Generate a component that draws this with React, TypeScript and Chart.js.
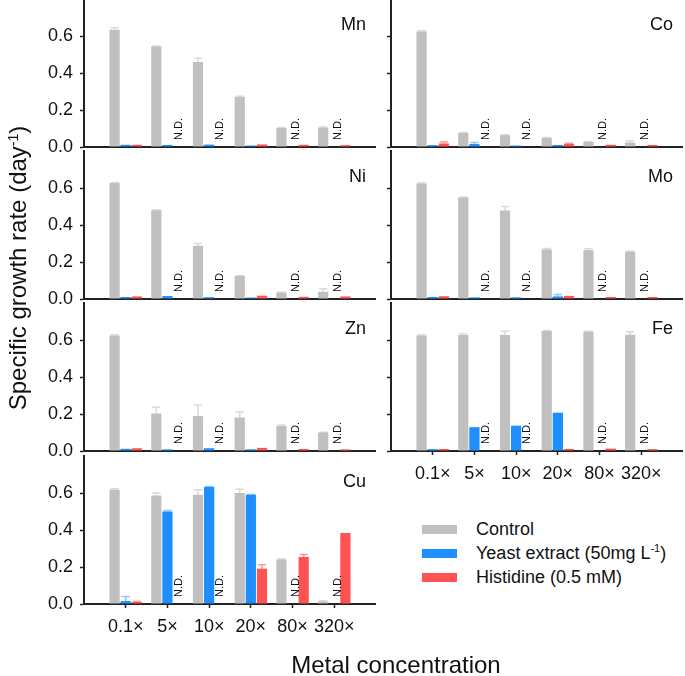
import React, { useEffect, useRef } from 'react';
import { Chart, registerables } from 'chart.js';

Chart.register(...registerables);

const FONT = '"Liberation Sans", Arial, Helvetica, sans-serif';

const CATEGORIES = ['0.1×', '5×', '10×', '20×', '80×', '320×'];
const Y_TICKS = [0, 0.2, 0.4, 0.6];
const Y_MAX = 0.8;
const SERIES_NAMES = ['Control', 'Yeast extract (50mg L-1)', 'Histidine (0.5 mM)'];
const SERIES_COLORS = ['#C0C0C0', '#1E8FFF', '#FF5252'];
const ERROR_COLORS = ['#DADADA', '#8CC6FF', '#FF9C9C'];

// null = N.D. (not detected)
const MN_CONTROL = [0.634, 0.543, 0.46, 0.27, 0.103, 0.105];
const MN_CONTROL_ERR = [0.01, 0.003, 0.02, 0.005, 0.003, 0.003];
const MN_YEAST = [0.012, 0.011, 0.013, 0.008, null, null];
const MN_YEAST_ERR = [0, 0, 0, 0, 0, 0];
const MN_HIS = [0.012, null, null, 0.014, 0.012, 0.01];
const MN_HIS_ERR = [0, 0, 0, 0, 0, 0];

const CO_CONTROL = [0.625, 0.076, 0.064, 0.049, 0.027, 0.024];
const CO_CONTROL_ERR = [0.003, 0.002, 0.002, 0.002, 0.003, 0.01];
const CO_YEAST = [0.01, 0.016, 0.008, 0.011, null, null];
const CO_YEAST_ERR = [0, 0.008, 0, 0, 0, 0];
const CO_HIS = [0.019, null, null, 0.017, 0.012, 0.011];
const CO_HIS_ERR = [0.008, 0, 0, 0.003, 0, 0];

const NI_CONTROL = [0.627, 0.48, 0.287, 0.124, 0.034, 0.039];
const NI_CONTROL_ERR = [0.003, 0.003, 0.013, 0.002, 0.002, 0.016];
const NI_YEAST = [0.011, 0.016, 0.01, 0.008, null, null];
const NI_YEAST_ERR = [0, 0, 0, 0, 0, 0];
const NI_HIS = [0.014, null, null, 0.018, 0.012, 0.014];
const NI_HIS_ERR = [0, 0, 0, 0, 0, 0];

const MO_CONTROL = [0.624, 0.548, 0.478, 0.268, 0.264, 0.255];
const MO_CONTROL_ERR = [0.003, 0.003, 0.022, 0.005, 0.008, 0.003];
const MO_YEAST = [0.011, 0.009, 0.009, 0.014, null, null];
const MO_YEAST_ERR = [0, 0, 0, 0.01, 0, 0];
const MO_HIS = [0.015, null, null, 0.017, 0.011, 0.011];
const MO_HIS_ERR = [0, 0, 0, 0, 0, 0];

const ZN_CONTROL = [0.625, 0.203, 0.189, 0.181, 0.135, 0.1];
const ZN_CONTROL_ERR = [0.003, 0.034, 0.06, 0.03, 0.006, 0.002];
const ZN_YEAST = [0.012, 0.009, 0.015, 0.009, null, null];
const ZN_YEAST_ERR = [0, 0, 0, 0, 0, 0];
const ZN_HIS = [0.015, null, null, 0.017, 0.011, 0.009];
const ZN_HIS_ERR = [0, 0, 0, 0, 0, 0];

const FE_CONTROL = [0.625, 0.627, 0.627, 0.648, 0.645, 0.628];
const FE_CONTROL_ERR = [0.002, 0.007, 0.02, 0.003, 0.002, 0.016];
const FE_YEAST = [0.01, 0.129, 0.137, 0.207, null, null];
const FE_YEAST_ERR = [0, 0, 0, 0, 0, 0];
const FE_HIS = [0.011, null, null, 0.011, 0.013, 0.01];
const FE_HIS_ERR = [0, 0, 0, 0, 0, 0];

const CU_CONTROL = [0.618, 0.587, 0.59, 0.6, 0.241, 0.014];
const CU_CONTROL_ERR = [0.005, 0.013, 0.027, 0.02, 0.003, 0.004];
const CU_YEAST = [0.016, 0.5, 0.632, 0.59, null, null];
const CU_YEAST_ERR = [0.024, 0.005, 0.003, 0.002, 0, 0];
const CU_HIS = [0.011, null, null, 0.191, 0.254, 0.384];
const CU_HIS_ERR = [0.002, 0, 0, 0.021, 0.013, 0];

type Panel = {
  name: string;
  col: number;
  row: number;
  xLabels: boolean;
  series: (number | null)[][];
  errors: number[][];
};

const PANELS: Panel[] = [
  { name: 'Mn', col: 0, row: 0, xLabels: false, series: [MN_CONTROL, MN_YEAST, MN_HIS], errors: [MN_CONTROL_ERR, MN_YEAST_ERR, MN_HIS_ERR] },
  { name: 'Co', col: 1, row: 0, xLabels: false, series: [CO_CONTROL, CO_YEAST, CO_HIS], errors: [CO_CONTROL_ERR, CO_YEAST_ERR, CO_HIS_ERR] },
  { name: 'Ni', col: 0, row: 1, xLabels: false, series: [NI_CONTROL, NI_YEAST, NI_HIS], errors: [NI_CONTROL_ERR, NI_YEAST_ERR, NI_HIS_ERR] },
  { name: 'Mo', col: 1, row: 1, xLabels: false, series: [MO_CONTROL, MO_YEAST, MO_HIS], errors: [MO_CONTROL_ERR, MO_YEAST_ERR, MO_HIS_ERR] },
  { name: 'Zn', col: 0, row: 2, xLabels: false, series: [ZN_CONTROL, ZN_YEAST, ZN_HIS], errors: [ZN_CONTROL_ERR, ZN_YEAST_ERR, ZN_HIS_ERR] },
  { name: 'Fe', col: 1, row: 2, xLabels: true, series: [FE_CONTROL, FE_YEAST, FE_HIS], errors: [FE_CONTROL_ERR, FE_YEAST_ERR, FE_HIS_ERR] },
  { name: 'Cu', col: 0, row: 3, xLabels: true, series: [CU_CONTROL, CU_YEAST, CU_HIS], errors: [CU_CONTROL_ERR, CU_YEAST_ERR, CU_HIS_ERR] },
];

// layout (pixels)
const ROW_ZERO = [147, 299, 451, 604];
const PLOT_H = 148;
const PAD_TOP = 12;
const PAD_BOTTOM = 12;
const COL_LEFT = [0, 307];
const CANVAS_W = 376;
const Y_AXIS_W = 84;

const errorBarsPlugin = {
  id: 'errorBars',
  beforeDatasetsDraw(chart: any) {
    const ctx = chart.ctx;
    const ys = chart.scales.y;
    chart.data.datasets.forEach((ds: any, di: number) => {
      const meta = chart.getDatasetMeta(di);
      meta.data.forEach((el: any, i: number) => {
        const v = ds.data[i];
        const e = ds.errors[i];
        if (v == null || !e) return;
        const top = ys.getPixelForValue(v + e);
        const w = el.width * 0.8;
        ctx.save();
        ctx.strokeStyle = ds.errColor;
        ctx.lineWidth = 1.5;
        ctx.beginPath();
        ctx.moveTo(el.x, el.y);
        ctx.lineTo(el.x, top);
        ctx.moveTo(el.x - w / 2, top);
        ctx.lineTo(el.x + w / 2, top);
        ctx.stroke();
        ctx.restore();
      });
    });
  },
};

const ndPlugin = {
  id: 'ndLabels',
  afterDatasetsDraw(chart: any) {
    const ctx = chart.ctx;
    const xs = chart.scales.x;
    const ys = chart.scales.y;
    const unit = xs.getPixelForValue(1) - xs.getPixelForValue(0);
    const slot = (unit * 0.8) / 3;
    const y0 = ys.getPixelForValue(0);
    chart.data.datasets.forEach((ds: any, di: number) => {
      if (di === 0) return;
      ds.data.forEach((v: any, i: number) => {
        if (i === 0 || i === ds.data.length - 1 || v !== null) return;
        const px = xs.getPixelForValue(i) + (di === 2 ? slot * 1.0 : slot * 0.3);
        ctx.save();
        ctx.translate(px, y0 - 7);
        ctx.rotate(-Math.PI / 2);
        ctx.font = '11px ' + FONT;
        ctx.fillStyle = '#111';
        ctx.textAlign = 'left';
        ctx.textBaseline = 'middle';
        ctx.fillText('N.D.', 0, 0);
        ctx.restore();
      });
    });
  },
};

const panelLabelPlugin = {
  id: 'panelLabel',
  afterDraw(chart: any) {
    const ctx = chart.ctx;
    const a = chart.chartArea;
    ctx.save();
    ctx.font = '18px ' + FONT;
    ctx.fillStyle = '#111';
    ctx.textAlign = 'right';
    ctx.textBaseline = 'middle';
    ctx.fillText(chart.options.plugins.panelLabel.text, a.right - 10, a.top + 26);
    ctx.restore();
  },
};

function PanelChart({ panel }: { panel: Panel }) {
  const ref = useRef<HTMLCanvasElement | null>(null);
  const xAxisH = panel.xLabels ? 42 : 2;
  const height = PAD_TOP + PLOT_H + xAxisH + PAD_BOTTOM;
  const top = ROW_ZERO[panel.row] - PLOT_H - PAD_TOP;
  const left = COL_LEFT[panel.col];

  useEffect(() => {
    if (!ref.current) return;
    const labels = ['', ...CATEGORIES, ''];
    const pad = (arr: any[]) => [null, ...arr, null];
    const chart = new Chart(ref.current, {
      type: 'bar',
      data: {
        labels,
        datasets: panel.series.map((s, k) => ({
          label: SERIES_NAMES[k],
          data: pad(s),
          errors: pad(panel.errors[k]),
          errColor: ERROR_COLORS[k],
          backgroundColor: SERIES_COLORS[k],
          borderWidth: 0,
          categoryPercentage: 0.8,
          barPercentage: 0.92,
        })) as any,
      },
      options: {
        responsive: false,
        animation: false,
        layout: { padding: { top: PAD_TOP, left: 0, right: 0, bottom: PAD_BOTTOM } },
        plugins: {
          legend: { display: false },
          tooltip: { enabled: false },
          panelLabel: { text: panel.name },
        } as any,
        scales: {
          x: {
            type: 'category',
            offset: false,
            grid: {
              offset: false,
              drawOnChartArea: false,
              drawTicks: panel.xLabels,
              tickLength: 4,
              tickColor: '#222',
              tickWidth: 1.5,
            },
            border: { display: true, color: '#222', width: 2 },
            ticks: {
              display: panel.xLabels,
              autoSkip: false,
              maxRotation: 0,
              padding: 8,
              color: '#111',
              font: { size: 18, family: FONT },
            },
            afterBuildTicks: (scale: any) => {
              scale.ticks = scale.ticks.filter((t: any) => t.value >= 1 && t.value <= CATEGORIES.length);
            },
            afterFit: (scale: any) => {
              scale.height = xAxisH;
              scale.paddingLeft = 0;
              scale.paddingRight = 0;
              scale.paddingTop = 0;
              scale.paddingBottom = 0;
            },
          },
          y: {
            min: 0,
            max: Y_MAX,
            grid: {
              drawOnChartArea: false,
              drawTicks: true,
              tickLength: 4,
              tickColor: '#222',
              tickWidth: 1.5,
            },
            border: { display: true, color: '#222', width: 2 },
            ticks: {
              padding: 7,
              color: panel.col === 0 ? '#111' : 'rgba(0,0,0,0)',
              font: { size: 18, family: FONT },
              callback: (v: any) => Number(v).toFixed(1),
            },
            afterBuildTicks: (scale: any) => {
              scale.ticks = Y_TICKS.map((v) => ({ value: v }));
            },
            afterFit: (scale: any) => {
              scale.width = Y_AXIS_W;
              scale.paddingTop = 0;
              scale.paddingBottom = 0;
              scale.paddingLeft = 0;
              scale.paddingRight = 0;
            },
          },
        },
      } as any,
      plugins: [errorBarsPlugin, ndPlugin, panelLabelPlugin],
    });
    return () => chart.destroy();
  }, []);

  return (
    <canvas
      ref={ref}
      width={CANVAS_W}
      height={height}
      style={{ position: 'absolute', left, top, width: CANVAS_W, height }}
    />
  );
}

export default function App() {
  const legendCenters = [529, 553, 577];
  return (
    <div
      style={{
        position: 'absolute',
        left: 0,
        top: 0,
        width: 685,
        height: 676,
        overflow: 'hidden',
        background: '#fff',
        fontFamily: FONT,
        color: '#111',
      }}
    >
      {PANELS.map((p) => (
        <PanelChart key={p.name} panel={p} />
      ))}

      {/* Y axis title */}
      <div
        style={{
          position: 'absolute',
          left: 18 - 200,
          top: 268 - 15,
          width: 400,
          height: 30,
          lineHeight: '30px',
          textAlign: 'center',
          fontSize: 24,
          transform: 'rotate(-90deg)',
          whiteSpace: 'nowrap',
        }}
      >
        Specific growth rate (day<sup style={{ fontSize: 14, verticalAlign: 'top', lineHeight: '20px' }}>-1</sup>)
      </div>

      {/* X axis title */}
      <div
        style={{
          position: 'absolute',
          left: 396 - 200,
          top: 665 - 15,
          width: 400,
          height: 30,
          lineHeight: '30px',
          textAlign: 'center',
          fontSize: 24,
          whiteSpace: 'nowrap',
        }}
      >
        Metal concentration
      </div>

      {/* Legend */}
      {SERIES_NAMES.map((name, k) => (
        <React.Fragment key={name}>
          <div
            style={{
              position: 'absolute',
              left: 422,
              top: legendCenters[k] - 4.5,
              width: 35,
              height: 9,
              background: SERIES_COLORS[k],
            }}
          />
          <div
            style={{
              position: 'absolute',
              left: 476,
              top: legendCenters[k] - 12,
              height: 24,
              lineHeight: '24px',
              fontSize: 18,
              whiteSpace: 'nowrap',
            }}
          >
            {k === 1 ? (
              <>
                Yeast extract (50mg L<sup style={{ fontSize: 11, verticalAlign: 'top', lineHeight: '14px' }}>-1</sup>)
              </>
            ) : (
              name
            )}
          </div>
        </React.Fragment>
      ))}
    </div>
  );
}
